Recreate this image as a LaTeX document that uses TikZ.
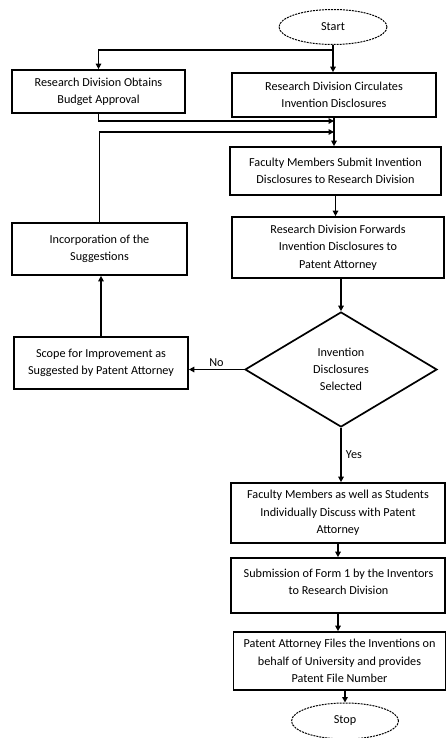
\documentclass[tikz,border=0pt]{standalone}
\usepackage{fontspec}
\setmainfont{Carlito}
\usetikzlibrary{shapes.geometric,arrows.meta}
\begin{document}
\begin{tikzpicture}[x=1pt,y=-1pt,
  txt/.style={font=\fontsize{12.2}{17.3}\selectfont},
  box/.style={draw,line width=1.7pt,rectangle,inner sep=0pt,align=center,txt},
  term/.style={draw,ellipse,dash pattern=on 2pt off 1pt,line width=1pt,inner sep=0pt,txt},
  dec/.style={draw,diamond,line width=1.7pt,inner sep=0pt,align=center,shape aspect=1.67,txt},
  conn/.style={line width=1.9pt,-{Triangle[length=5.5pt,width=5.5pt]}},
  plain/.style={line width=1.9pt}]
\useasboundingbox (0,0) rectangle (447,738);
\fill[white] (0,0) rectangle (447,738);

\node[term,minimum width=108pt,minimum height=35pt] (start) at (333,27) {Start};
\node[box,minimum width=173pt,minimum height=43pt] (rdo) at (98.5,91.5) {Research Division Obtains\\Budget Approval};
\node[box,minimum width=204pt,minimum height=44pt] (rdc) at (334,95) {Research Division Circulates\\Invention Disclosures};
\node[box,minimum width=211pt,minimum height=48pt] (fac) at (335.5,171) {Faculty Members Submit Invention\\Disclosures to Research Division};
\node[box,minimum width=212pt,minimum height=61pt] (fwd) at (338,247.5) {Research Division Forwards\\Invention Disclosures to\\Patent Attorney};
\node[box,minimum width=175pt,minimum height=52pt] (inc) at (99.5,249) {Incorporation of the\\Suggestions};
\node[box,minimum width=174pt,minimum height=52pt] (scope) at (101,363) {Scope for Improvement as\\Suggested by Patent Attorney};
\node[dec,minimum width=192pt,minimum height=115pt] (dia) at (341,369.5) {Invention\\Disclosures\\Selected};
\node[box,minimum width=214pt,minimum height=60pt] (fac2) at (338,513) {Faculty Members as well as Students\\Individually Discuss with Patent\\Attorney};
\node[box,minimum width=214pt,minimum height=55pt] (sub) at (338,585.5) {};
\node[txt,align=center,inner sep=0pt] (subtxt) at (338.5,581.5) {Submission of Form 1 by the Inventors\\to Research Division};
\node[box,minimum width=212pt,minimum height=58pt] (pat) at (339.5,661) {Patent Attorney Files the Inventions on\\behalf of University and provides\\Patent File Number};
\node[term,minimum width=107pt,minimum height=36pt] (stop) at (345,721) {Stop};

\coordinate (j0) at (333,50);
\coordinate (m1) at (334,121);
\coordinate (m2) at (334,132);
\draw[plain] (start.south) -- (j0);
\draw[conn] (j0) -| (rdo.north);
\draw[conn] (j0) -- (j0 |- rdc.north);
\draw[conn] (rdo.south) |- (m1);
\draw[conn] (inc.north) |- (m2);
\draw[conn] (rdc.south) -- (rdc.south |- fac.north);
\draw[conn] (fac.south) -- (fac.south |- fwd.north);
\draw[conn] (fwd.south -| dia.north) -- (dia.north);
\draw[conn] (dia.west) -- (dia.west -| scope.east) node[txt,midway,above,inner sep=2pt] (no) {No};
\draw[conn] (scope.north) -- (scope.north |- inc.south);
\draw[conn] (dia.south) -- (dia.south |- fac2.north) node[txt,midway,right,inner sep=4pt] (yes) {Yes};
\draw[conn] (fac2.south) -- (fac2.south |- sub.north);
\draw[conn] (sub.south) -- (sub.south |- pat.north);
\draw[conn] (pat.south -| stop.north) -- (stop.north);
\end{tikzpicture}
\end{document}
